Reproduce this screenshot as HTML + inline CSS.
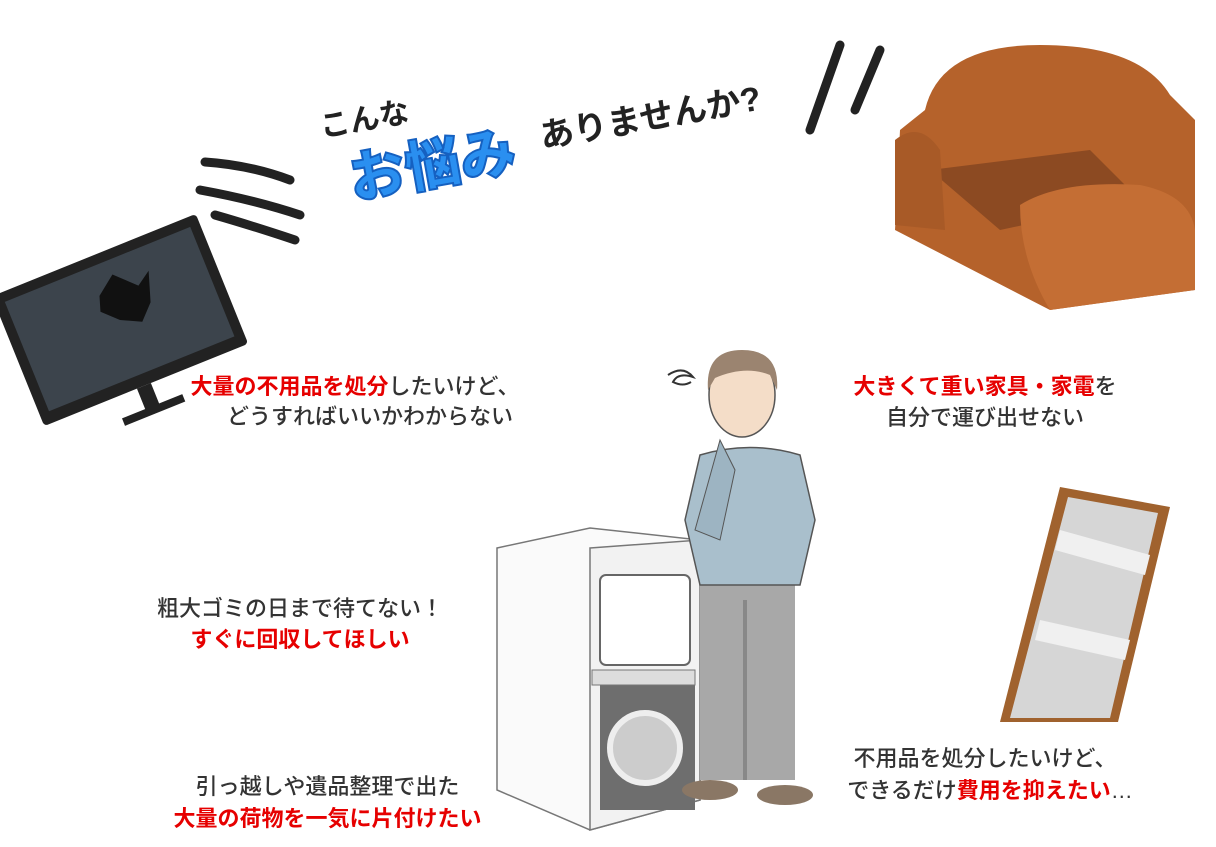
<!DOCTYPE html>
<html><head><meta charset="utf-8"><style>
html,body{margin:0;padding:0;background:#fff;}
body{width:1216px;height:847px;position:relative;overflow:hidden;font-family:"Liberation Sans","Noto Sans CJK JP",sans-serif;}
.t{position:absolute;font-size:22px;color:#333;white-space:nowrap;text-align:center;font-weight:500;}
.r{color:#e60000;font-weight:bold;}
</style></head><body>
<svg width="1216" height="847" style="position:absolute;left:0;top:0">
  <g stroke="#222" stroke-width="9" stroke-linecap="round" fill="none">
    <path d="M205 162 Q250 165 290 180"/>
    <path d="M200 190 Q255 200 300 215"/>
    <path d="M215 215 Q250 225 295 240"/>
    <path d="M840 45 L810 130"/>
    <path d="M880 50 L855 110"/>
  </g>
  <g transform="rotate(-22 120 320)">
    <rect x="10" y="250" width="220" height="140" rx="4" fill="#222"/>
    <rect x="20" y="260" width="200" height="118" fill="#3c444c"/>
    <polygon points="110,290 130,275 150,295 165,285 155,315 140,330 120,320 105,305" fill="#111"/>
    <rect x="110" y="390" width="15" height="25" fill="#222"/>
    <rect x="85" y="412" width="65" height="8" fill="#222"/>
  </g>
  <path d="M925 110 Q940 45 1040 45 Q1140 45 1170 95 L1195 120 L1195 290 L1050 310 L895 230 L900 130 Z" fill="#b5622b"/>
  <path d="M930 170 L1090 150 L1140 200 L1000 230 Z" fill="#8c4a22"/>
  <path d="M1020 205 Q1060 180 1140 185 Q1190 195 1195 230 L1195 290 L1050 310 Q1020 260 1020 205Z" fill="#c46e34"/>
  <path d="M895 140 Q920 120 940 150 L945 230 L895 225 Z" fill="#a85a27"/>
  <polygon points="1060,487 1170,507 1118,722 1000,722" fill="#a0622e"/>
  <polygon points="1068,497 1158,513 1110,718 1010,718" fill="#d6d6d6"/>
  <polygon points="1060,530 1150,555 1145,575 1055,550" fill="#f0f0f0"/>
  <polygon points="1040,620 1130,640 1125,660 1035,640" fill="#f0f0f0"/>
  <polygon points="497,548 590,528 700,540 700,800 590,830 497,790" fill="#fafafa" stroke="#777" stroke-width="1.5"/>
  <polygon points="590,548 700,540 700,800 590,830" fill="#f2f2f2" stroke="#777" stroke-width="1.5"/>
  <rect x="600" y="575" width="90" height="90" rx="6" fill="#fff" stroke="#666" stroke-width="2"/>
  <rect x="600" y="685" width="95" height="125" fill="#6e6e6e"/>
  <circle cx="645" cy="748" r="35" fill="#ccc" stroke="#eee" stroke-width="6"/>
  <rect x="592" y="670" width="103" height="15" fill="#ddd" stroke="#777"/>
  <rect x="700" y="580" width="95" height="200" fill="#a8a8a8"/>
  <rect x="743" y="600" width="4" height="180" fill="#888"/>
  <path d="M700 455 Q750 440 800 455 L815 520 L800 585 L700 585 L685 520 Z" fill="#a9bfcc" stroke="#555" stroke-width="1.5"/>
  <path d="M720 440 L735 470 L720 540 L695 530 Z" fill="#9db4c2" stroke="#555"/>
  <ellipse cx="742" cy="395" rx="33" ry="42" fill="#f4ddc8" stroke="#555" stroke-width="1.5"/>
  <path d="M708 390 Q705 350 742 350 Q780 350 777 390 L770 375 Q745 365 715 378 Z" fill="#9b8470"/>
  <ellipse cx="710" cy="790" rx="28" ry="10" fill="#8a7765"/>
  <ellipse cx="785" cy="795" rx="28" ry="10" fill="#8a7765"/>
  <path d="M668 375 q15 -10 25 2 q-15 -5 -20 5 q10 5 18 0" stroke="#333" stroke-width="2" fill="none"/>
</svg>
<div style="position:absolute;left:300px;top:70px;transform:rotate(-10deg);transform-origin:left top;">
  <div style="font-size:30px;font-weight:bold;color:#222;position:absolute;left:10px;top:35px;white-space:nowrap;">こんな</div>
  <div style="font-size:56px;font-weight:900;color:#2a8ff0;position:absolute;left:30px;top:72px;white-space:nowrap;-webkit-text-stroke:2px #1560c0;text-shadow:3px 3px 0 #fff,0 0 6px #fff;">お悩み</div>
  <div style="font-size:34px;font-weight:bold;color:#222;position:absolute;left:225px;top:80px;white-space:nowrap;">ありませんか?</div>
</div>
<div class="t" style="left:180px;top:369px;width:350px;"><span class="r">大量の不用品を処分</span>したいけど、</div>
<div class="t" style="left:180px;top:399px;width:380px;">どうすればいいかわからない</div>
<div class="t" style="left:825px;top:369px;width:320px;"><span class="r">大きくて重い家具・家電</span>を</div>
<div class="t" style="left:825px;top:400px;width:320px;">自分で運び出せない</div>
<div class="t" style="left:130px;top:591px;width:340px;">粗大ゴミの日まで待てない！</div>
<div class="t r" style="left:130px;top:622px;width:340px;">すぐに回収してほしい</div>
<div class="t" style="left:155px;top:769px;width:345px;">引っ越しや遺品整理で出た</div>
<div class="t r" style="left:145px;top:801px;width:365px;">大量の荷物を一気に片付けたい</div>
<div class="t" style="left:830px;top:741px;width:310px;">不用品を処分したいけど、</div>
<div class="t" style="left:820px;top:773px;width:340px;">できるだけ<span class="r">費用を抑えたい</span>…</div>
</body></html>
